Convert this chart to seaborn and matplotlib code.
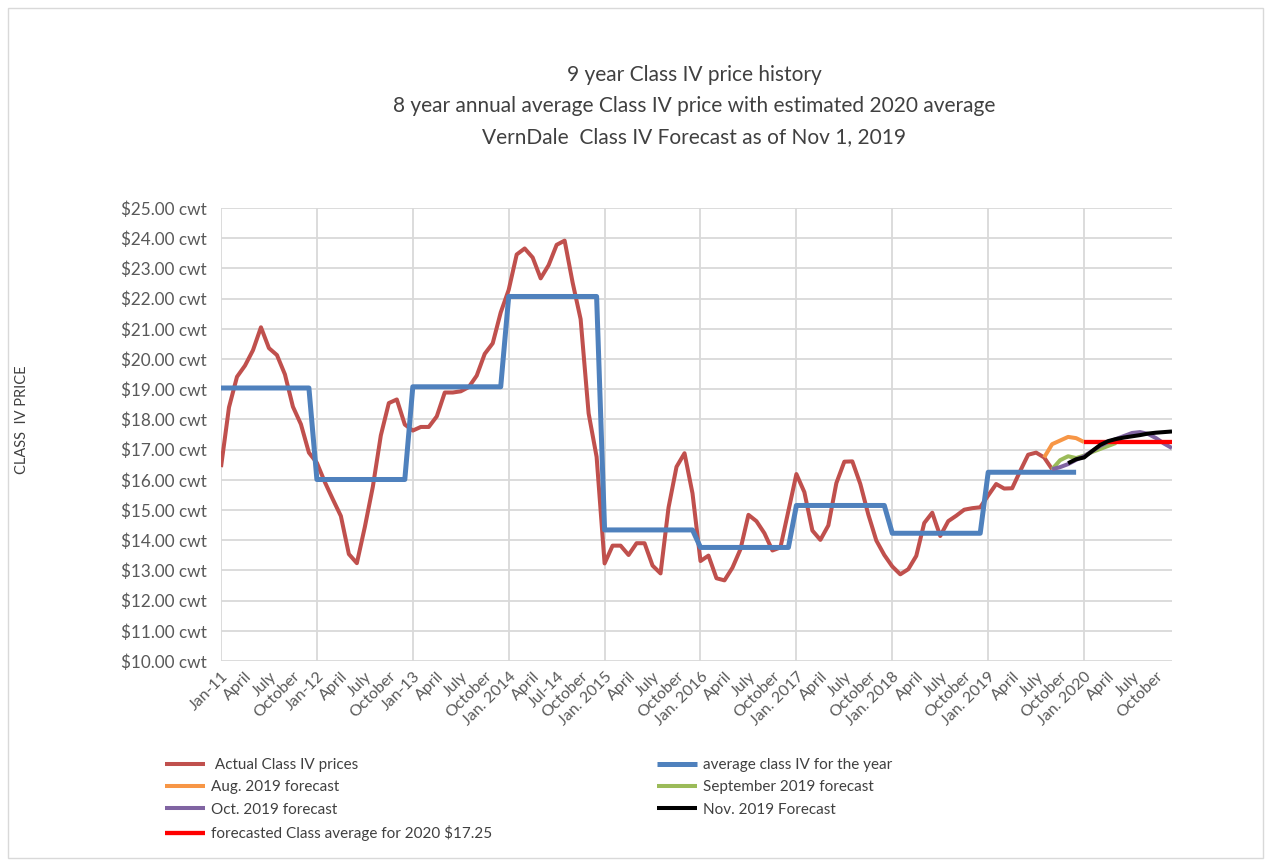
import numpy as np
import pandas as pd
import matplotlib
matplotlib.use("Agg")
import matplotlib.pyplot as plt
import seaborn as sns
from matplotlib.patches import Rectangle

sns.set_theme(style="white")
plt.rcParams['font.family'] = ['Lato', 'DejaVu Sans']

# ---------------- data ----------------
years = [2011, 2012, 2013, 2014, 2015, 2016, 2017, 2018, 2019, 2020]
month_names = ["Jan", "Feb", "Mar", "Apr", "May", "Jun", "Jul", "Aug", "Sep", "Oct", "Nov", "Dec"]

tick_labels = [
    "Jan-11", "April", "July", "October",
    "Jan-12", "April", "July", "October",
    "Jan-13", "April", "July", "October",
    "Jan. 2014", "April", "Jul-14", "October",
    "Jan. 2015", "April", "July", "October",
    "Jan. 2016", "April", "July", "October",
    "Jan. 2017", "April", "July", "October",
    "Jan. 2018", "April", "July", "October",
    "Jan. 2019", "April", "July", "October",
    "Jan. 2020", "April", "July", "October",
]

# Actual Class IV prices, Jan 2011 - Sep 2019 ($/cwt)
actual_prices = [
    16.42, 18.40, 19.41, 19.78, 20.29, 21.05, 20.36, 20.13, 19.49, 18.42, 17.84, 16.90,
    16.56, 15.92, 15.35, 14.80, 13.54, 13.24, 14.44, 15.77, 17.47, 18.54, 18.66, 17.83,
    17.63, 17.75, 17.75, 18.10, 18.89, 18.89, 18.93, 19.07, 19.45, 20.17, 20.52, 21.54,
    22.29, 23.46, 23.66, 23.36, 22.67, 23.11, 23.78, 23.92, 22.53, 21.32, 18.20, 16.76,
    13.23, 13.82, 13.82, 13.51, 13.90, 13.90, 13.16, 12.90, 15.08, 16.43, 16.88, 15.55,
    13.31, 13.49, 12.74, 12.67, 13.09, 13.70, 14.84, 14.63, 14.23, 13.66, 13.76, 14.97,
    16.19, 15.59, 14.32, 14.01, 14.49, 15.89, 16.60, 16.61, 15.86, 14.85, 13.99, 13.51,
    13.13, 12.87, 13.04, 13.48, 14.57, 14.91, 14.14, 14.63, 14.81, 15.01, 15.06, 15.09,
    15.48, 15.86, 15.71, 15.72, 16.29, 16.83, 16.90, 16.74, 16.35,
]

# Annual average Class IV price, 2011 - 2019
annual_avg = [19.04, 16.01, 19.08, 22.07, 14.34, 13.76, 15.15, 14.23, 16.25]

# Forecasts (start month label, values)
aug_start = "Aug 2019"
aug_forecast = [16.74, 17.18, 17.30, 17.42, 17.38, 17.25]
sep_start = "Sep 2019"
sep_forecast = [16.35, 16.65, 16.78, 16.72, 16.80, 16.92, 17.02, 17.12, 17.22]
oct_start = "Sep 2019"
oct_forecast = [16.35, 16.42, 16.52, 16.66, 16.78, 16.95, 17.12, 17.25, 17.35, 17.45,
                17.55, 17.58, 17.52, 17.38, 17.20, 17.05]
nov_start = "Nov 2019"
nov_forecast = [16.55, 16.68, 16.74, 16.95, 17.15, 17.28, 17.35, 17.40, 17.44, 17.48,
                17.53, 17.56, 17.58, 17.60]
avg2020_start = "Jan 2020"
avg2020 = [17.25] * 12

# ---------------- helpers ----------------
months = [f"{m} {y}" for y in years for m in month_names]
idx = {m: i for i, m in enumerate(months)}

def series(start, values):
    s = idx[start]
    return pd.DataFrame({"x": np.arange(s, s + len(values)), "y": values})

actual_df = series("Jan 2011", actual_prices)
avg_df = series("Jan 2011", list(np.repeat(annual_avg, 12)))

# ---------------- figure ----------------
W, H = 1271, 861
fig = plt.figure(figsize=(W / 100, H / 100), dpi=100)
ax = fig.add_axes([221 / W, 1 - 661 / H, (1172 - 221) / W, (661 - 208) / H])

specs = [
    (actual_df, "#C0504D", " Actual Class IV prices", 2.9),
    (avg_df, "#4F81BD", "average class IV for the year", 3.6),
    (series(aug_start, aug_forecast), "#F79646", "Aug. 2019 forecast", 2.9),
    (series(sep_start, sep_forecast), "#9BBB59", "September 2019 forecast", 2.9),
    (series(oct_start, oct_forecast), "#8064A2", "Oct. 2019 forecast", 2.9),
    (series(avg2020_start, avg2020), "#FF0000", "forecasted Class average for 2020 $17.25", 3.1),
    (series(nov_start, nov_forecast), "#000000", "Nov. 2019 Forecast", 2.9),
]
handles = {}
for df, col, lab, lw in specs:
    sns.lineplot(data=df, x="x", y="y", color=col, linewidth=lw, ax=ax,
                 sort=False, estimator=None, legend=False)
    ln = ax.get_lines()[-1]
    ln.set_solid_capstyle("butt")
    ln.set_solid_joinstyle("round")
    handles[lab] = ln

ax.set_xlim(0, 119)
ax.set_ylim(10, 25)
grid_c = "#D9D9D9"
for v in range(10, 26):
    ax.axhline(v, color=grid_c, lw=1.3, zorder=0)
for v in range(0, 120, 12):
    ax.axvline(v, color=grid_c, lw=1.3, zorder=0)
for s in ax.spines.values():
    s.set_visible(False)

ax.set_xticks(np.arange(0, 120, 3))
ax.set_xticklabels(tick_labels, rotation=45, ha="right", va="top",
                   rotation_mode="anchor", fontsize=11.5, color="#595959")
ax.set_yticks(np.arange(10, 26, 1))
ax.set_yticklabels([f"${v:.2f} cwt" for v in range(10, 26)], fontsize=12.3, color="#595959")
ax.tick_params(axis="y", length=0, pad=10)
ax.tick_params(axis="x", length=0, pad=6)
ax.set_xlabel("")
ax.set_ylabel("")

# titles
for yy, t in [(75, "9 year Class IV price history"),
              (106, "8 year annual average Class IV price with estimated 2020 average"),
              (137, "VernDale  Class IV Forecast as of Nov 1, 2019")]:
    fig.text(694 / W, 1 - yy / H, t, ha="center", va="center", fontsize=15, color="#404040")

fig.text(22 / W, 1 - 420 / H, "CLASS  IV PRICE", rotation=90, ha="center", va="center",
         fontsize=10.5, color="#404040")

# legends
left_labels = [" Actual Class IV prices", "Aug. 2019 forecast", "Oct. 2019 forecast",
               "forecasted Class average for 2020 $17.25"]
right_labels = ["average class IV for the year", "September 2019 forecast", "Nov. 2019 Forecast"]
kw = dict(frameon=False, fontsize=11, handlelength=2.6, handletextpad=0.4,
          labelspacing=0.55, borderpad=0, borderaxespad=0, loc="upper left",
          labelcolor="#404040")
leg1 = fig.legend([handles[l] for l in left_labels], left_labels,
                  bbox_to_anchor=(165 / W, 1 - 758 / H), **kw)
leg2 = fig.legend([handles[l] for l in right_labels], right_labels,
                  bbox_to_anchor=(657 / W, 1 - 758 / H), **kw)

fig.patches.append(Rectangle((8 / W, 3 / H), 1255 / W, 850 / H, transform=fig.transFigure,
                             fill=False, edgecolor="#D9D9D9", lw=1))

fig.savefig("out.png", dpi=100)
